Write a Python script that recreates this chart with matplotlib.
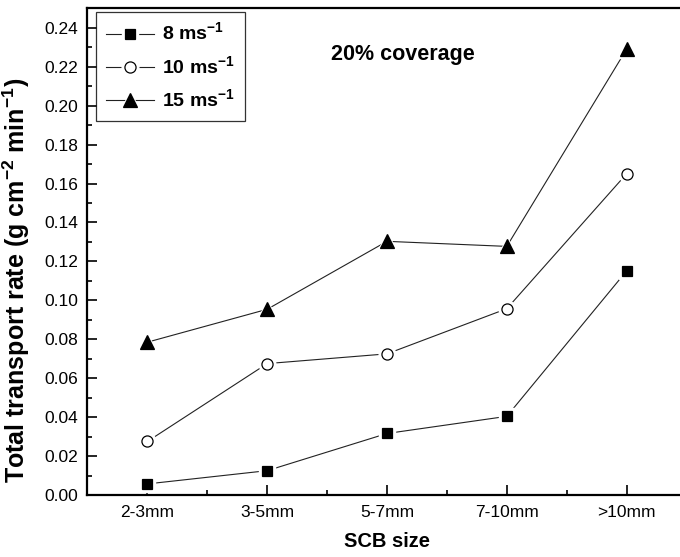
import matplotlib
matplotlib.use("Agg")
import matplotlib.pyplot as plt
from matplotlib.ticker import MultipleLocator, FormatStrFormatter

plt.rcParams["font.family"] = ["Liberation Sans", "DejaVu Sans"]
plt.rcParams["mathtext.fontset"] = "custom"
plt.rcParams["mathtext.rm"] = "Liberation Sans:bold"
plt.rcParams["mathtext.bf"] = "Liberation Sans:bold"

# data
sizes = ["2-3mm", "3-5mm", "5-7mm", "7-10mm", ">10mm"]
rate_8 = [0.0057, 0.0125, 0.0316, 0.0404, 0.1151]
rate_10 = [0.0275, 0.0675, 0.0725, 0.0957, 0.1650]
rate_15 = [0.0785, 0.0954, 0.1303, 0.1277, 0.2290]
labels = [r"8 ms$^{\mathbf{-1}}$", r"10 ms$^{\mathbf{-1}}$", r"15 ms$^{\mathbf{-1}}$"]

fig = plt.figure(figsize=(6.8, 5.57), dpi=100)
ax = fig.add_axes([87.5 / 680, 1 - 495 / 557, 599 / 680, 486.7 / 557])

x = list(range(len(sizes)))
series = [
    (rate_8, "s", 7.5, "black"),
    (rate_10, "o", 8, "white"),
    (rate_15, "^", 9.5, "black"),
]
handles = []
for (vals, mk, ms, fc), lab in zip(series, labels):
    ln, = ax.plot(x, vals, "-", color="#222222", lw=0.8, zorder=2)
    # white halo leaves a small gap between line and marker (Origin look)
    halo, = ax.plot(x, vals, ls="none", marker=mk, ms=ms + 4, mfc="white",
                    mec="white", zorder=3)
    pt, = ax.plot(x, vals, ls="none", marker=mk, ms=ms, mfc=fc, mec="black",
                  mew=0.9, zorder=4)
    handles.append((ln, halo, pt))

ax.set_xlim(-0.5, 4.5)
ax.set_ylim(0, 0.25)
ax.set_xticks(x)
ax.set_xticklabels(sizes)
ax.xaxis.set_minor_locator(MultipleLocator(0.5))
ax.yaxis.set_major_locator(MultipleLocator(0.02))
ax.yaxis.set_minor_locator(MultipleLocator(0.01))
ax.yaxis.set_major_formatter(FormatStrFormatter("%.2f"))

ax.tick_params(which="major", direction="in", length=7, width=1.2,
               labelsize=12.5, pad=7, top=False, right=False)
ax.tick_params(which="minor", direction="in", length=3.5, width=1.2,
               top=False, right=False)
for s in ax.spines.values():
    s.set_linewidth(1.6)

ax.set_xlabel("SCB size", fontsize=14.5, fontweight="bold", labelpad=9)
ax.set_ylabel(r"Total transport rate (g cm$^{\mathbf{-2}}$ min$^{\mathbf{-1}}$)",
              fontsize=18, fontweight="bold")
ax.yaxis.set_label_coords(-0.093, 0.44)

ax.text(0.406, 0.905, "20% coverage", transform=ax.transAxes,
        fontsize=15.5, fontweight="bold", ha="left", va="center")

leg = ax.legend(handles, labels, loc="upper left",
                bbox_to_anchor=(0.0142, 0.9924),
                borderaxespad=0, frameon=True, fancybox=False,
                edgecolor="black", handlelength=2.5, handletextpad=0.4,
                labelspacing=0.55, borderpad=0.5,
                prop={"size": 14, "weight": "bold"})
leg.get_frame().set_linewidth(0.9)

fig.savefig("out.png", dpi=100, facecolor="white")
